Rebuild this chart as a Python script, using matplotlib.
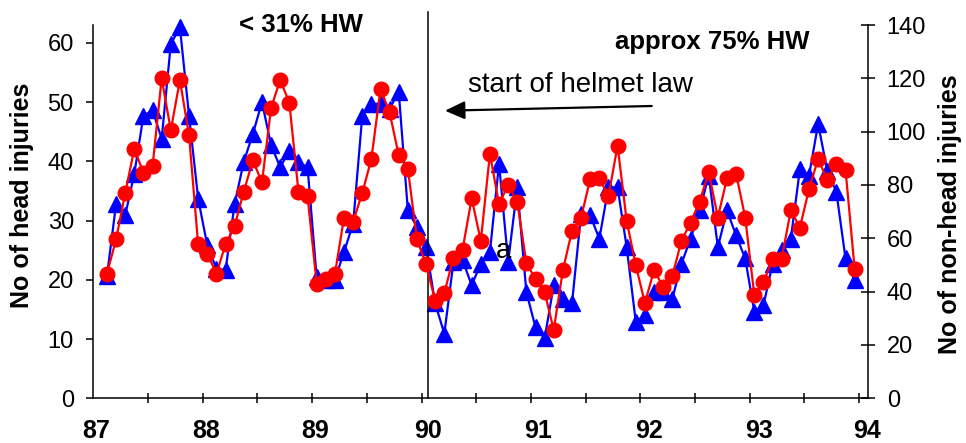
import numpy as np
import matplotlib
matplotlib.use("Agg")
import matplotlib.pyplot as plt
from matplotlib.transforms import blended_transform_factory

plt.rcParams['font.family'] = ['Liberation Sans', 'DejaVu Sans']

# ---- data (monthly, categories 1..83) ----
month_index = list(range(1, 84))
head_injuries = [
    20.7, 32.8, 30.9, 37.9, 47.7, 48.6, 43.8, 59.8, 62.6, 47.7, 33.7, 25.8,
    21.9, 21.6, 32.8, 39.9, 44.6, 50.0, 42.7, 39.0, 41.8, 39.8, 39.0, 20.4,
    20.0, 20.0, 24.7, 29.5, 47.7, 49.7, 49.7, 48.9, 51.7, 31.7, 28.9, 25.5,
    16.0, 10.9, 23.0, 23.3, 19.1, 22.7, 24.7, 39.6, 23.0, 35.6, 17.9, 12.0,
    10.1, 19.1, 16.8, 16.0, 31.1, 30.9, 26.9, 35.6, 35.6, 25.5, 12.9, 14.0,
    17.9, 17.9, 16.8, 22.7, 26.9, 31.7, 37.6, 25.5, 31.7, 27.5, 23.6, 14.6,
    15.7, 22.7, 25.0, 26.9, 38.7, 37.6, 46.3, 38.4, 34.8, 23.6, 19.9]
non_head_injuries = [
    46.8, 59.6, 77.0, 93.6, 84.5, 87.0, 120.0, 100.5, 119.4, 98.6, 57.7, 54.3,
    46.7, 57.7, 64.6, 77.5, 89.2, 81.0, 108.9, 119.4, 110.9, 77.5, 75.7, 43.0,
    44.6, 46.6, 67.8, 66.3, 77.0, 89.8, 116.0, 107.2, 91.1, 86.0, 59.6, 50.2,
    36.6, 39.5, 52.7, 55.8, 75.0, 59.0, 91.7, 72.8, 80.0, 73.7, 50.6, 44.8,
    39.7, 25.7, 48.0, 62.8, 67.8, 82.2, 82.6, 75.7, 94.8, 66.5, 49.9, 35.7,
    48.0, 41.8, 45.8, 59.0, 65.9, 73.8, 84.8, 67.8, 82.5, 84.2, 67.8, 38.6,
    43.5, 52.1, 52.3, 70.6, 64.0, 78.5, 89.8, 81.9, 87.9, 85.8, 48.6]
year_labels = ['87', '88', '89', '90', '91', '92', '93', '94']
year_label_pos = [0.35, 12.36, 24.3, 36.7, 48.8, 60.9, 73.0, 84.9]
law_start = 36.73

W, H = 966, 443
fig = plt.figure(figsize=(W / 100, H / 100), dpi=100)
L, R, T, B = 93.3, 868.3, 25.0, 398.3
ax = fig.add_axes([L / W, 1 - B / H, (R - L) / W, (B - T) / H])
ax2 = ax.twinx()

x = np.array(month_index) + 0.5

ax.plot(x, head_injuries, color='#0000FF', lw=1.6, marker='^', ms=11,
        mec='#0000FF', mfc='#0000FF', clip_on=False, zorder=3)
ax2.plot(x, non_head_injuries, color='#FF0000', lw=1.6, marker='o', ms=10.5,
         mec='#FF0000', mfc='#FF0000', clip_on=False, zorder=3)

ax.set_xlim(0, 85)
ax.set_ylim(0, 63)
ax2.set_ylim(0, 140)
ax.set_yticks(range(0, 61, 10))
ax2.set_yticks(range(0, 141, 20))
ax.set_xticks(range(6, 85, 6))
ax.set_xticklabels([])

for a in (ax, ax2):
    a.spines['top'].set_visible(False)
    for s in a.spines.values():
        s.set_linewidth(1.1)
ax.spines['right'].set_visible(False)
ax2.spines['left'].set_visible(False)
ax2.spines['bottom'].set_visible(False)

ax.tick_params(axis='y', direction='out', length=5, width=1.1, labelsize=17, pad=9)
ax.tick_params(axis='x', direction='inout', length=7.5, width=1.1)
ax2.tick_params(axis='y', direction='inout', length=10.5, width=1.1, labelsize=17, pad=8)

trans_x = blended_transform_factory(ax.transData, ax.transAxes)
for p, lab in zip(year_label_pos, year_labels):
    ax.text(p, -0.0876, lab, transform=trans_x, ha='center', va='center',
            fontsize=18, fontweight='bold')

# vertical line at start of helmet law
ax.plot([law_start, law_start], [0, 1.0356], transform=trans_x, color='black',
        lw=1.1, clip_on=False, zorder=4)

# axis labels
fig.text(21.7 / W, 1 - 195 / H, 'No of head injuries', rotation=90,
         ha='center', va='center', fontsize=18, fontweight='bold')
fig.text(950 / W, 1 - 214 / H, 'No of non-head injuries', rotation=90,
         ha='center', va='center', fontsize=18, fontweight='bold')

# annotations
fig.text(300.5 / W, 1 - 32.3 / H, '< 31% HW', ha='center', va='baseline',
         fontsize=18.5, fontweight='bold')
fig.text(712.5 / W, 1 - 49.3 / H, 'approx 75% HW', ha='center', va='baseline',
         fontsize=18.5, fontweight='bold')
fig.text(580.8 / W, 1 - 91.7 / H, 'start of helmet law', ha='center',
         va='baseline', fontsize=20)
fig.text(503.7 / W, 1 - 258.3 / H, 'a', ha='center', va='baseline', fontsize=20)

fig.patches.append(matplotlib.patches.FancyArrowPatch(
    posA=(651.7 / W, 1 - 106 / H), posB=(445 / W, 1 - 110.7 / H),
    transform=fig.transFigure, arrowstyle='-|>,head_length=1.2,head_width=0.55',
    mutation_scale=10, color='black', lw=1.6, shrinkA=0, shrinkB=0))

fig.savefig('out.png', dpi=100)
